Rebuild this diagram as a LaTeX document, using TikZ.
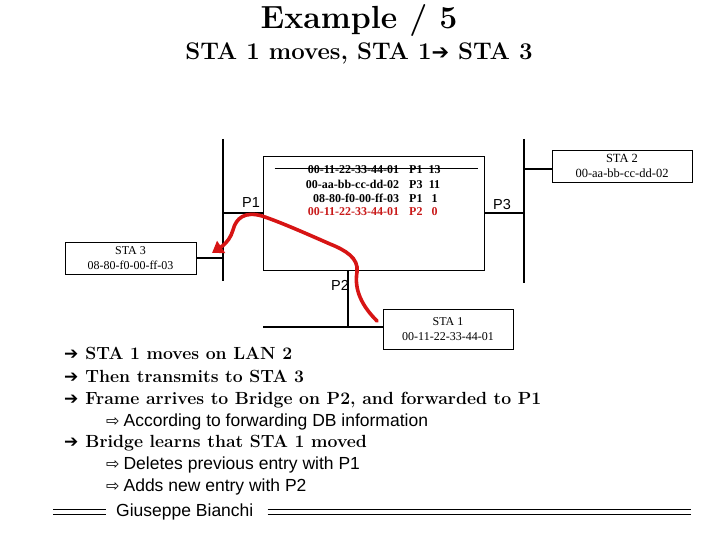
\documentclass[tikz,border=0pt]{standalone}
\usepackage{fontspec}
\setsansfont{Liberation Sans}
\newfontfamily\macfont{Liberation Serif}
\newfontfamily\symfont{DejaVu Sans}
\usetikzlibrary{arrows.meta}
\definecolor{movered}{RGB}{215,20,20}
\definecolor{entryred}{RGB}{200,25,25}
% one row of the forwarding data base
\newcommand{\fdbrow}[3]{\makebox[100pt][r]{#1}\hspace{10pt}#2\hspace{6pt}\makebox[12pt][c]{#3}}
\newcommand{\pointarrow}{{\symfont\mdseries\fontsize{17}{17}\selectfont ➔}\hspace{7pt}}
\newcommand{\subarrow}{{\symfont\fontsize{16}{16}\selectfont ⇨}\hspace{4pt}}

\begin{document}
\begin{tikzpicture}[x=1pt,y=-1pt,
  lan/.style={line width=1.1pt},
  stabox/.style={draw,line width=0.8pt,inner sep=0pt,align=center,
    font=\macfont\fontsize{12}{15}\selectfont},
  fdb/.style={anchor=west,inner sep=0pt,font=\macfont\bfseries\fontsize{12}{13}\selectfont},
  port/.style={font=\sffamily\fontsize{14.5}{16}\selectfont},
  point/.style={anchor=base west,inner sep=0pt,font=\bfseries\fontsize{17.6}{20}\selectfont},
  subpoint/.style={anchor=base west,inner sep=0pt,font=\sffamily\fontsize{17.5}{20}\selectfont},
  movepath/.style={movered,line width=3.6pt,line cap=round,
    -{Triangle[length=11pt,width=14pt]}},
  footerline/.style={line width=0.8pt}]
  \useasboundingbox (0,0) rectangle (720,540);

  % titles
  \node[font=\bfseries\fontsize{32}{34}\selectfont] (title) at (359,21) {Example / 5};
  \node[font=\bfseries\fontsize{24}{26}\selectfont] (subtitle) at (359,53)
    {STA 1 moves, STA 1{\symfont\mdseries\fontsize{21}{21}\selectfont ➔} STA 3};

  % bridge and its table
  \node[draw,line width=0.8pt,minimum width=221pt,minimum height=114pt] (bridge) at (373.5,213) {};
  \node[fdb] (row1) at (299,170) {\fdbrow{00-11-22-33-44-01}{P1}{13}};
  \node[fdb] (row2) at (299,184) {\fdbrow{00-aa-bb-cc-dd-02}{P3}{11}};
  \node[fdb] (row3) at (299,198) {\fdbrow{08-80-f0-00-ff-03}{P1}{1}};
  \node[fdb,text=entryred] (row4) at (299,212) {\fdbrow{00-11-22-33-44-01}{P2}{0}};
  \draw[line width=0.8pt] ([xshift=12pt,yshift=2pt]bridge.west |- row1.center)
    -- ([xshift=-6pt,yshift=2pt]bridge.east |- row1.center);

  % LANs
  \coordinate (lan1top) at (223,139);
  \coordinate (lan1bot) at (223,281);
  \coordinate (lan3top) at (524,139);
  \coordinate (lan3bot) at (524,283);
  \coordinate (lan2left) at (263,327);
  \coordinate (p2) at (348,327);
  \draw[lan] (lan1top) -- (lan1bot);
  \draw[lan] (lan3top) -- (lan3bot);

  % stations
  \node[stabox,minimum width=131pt,minimum height=32pt] (sta3) at (130.5,258)
    {STA 3\\08-80-f0-00-ff-03};
  \node[stabox,minimum width=140pt,minimum height=32pt,font=\macfont\fontsize{12.5}{15}\selectfont] (sta2) at (622,166)
    {STA 2\\00-aa-bb-cc-dd-02};
  \node[stabox,minimum width=130pt,minimum height=40pt] (sta1) at (448,329)
    {STA 1\\00-11-22-33-44-01};

  \draw[lan] (lan2left) -- (lan2left -| sta1.west);
  \draw[lan] (bridge.west) -- (bridge.west -| lan1top);
  \draw[lan] (bridge.east) -- (bridge.east -| lan3top);
  \draw[lan] (p2) -- (p2 |- bridge.south);
  \draw[lan] (sta3.east) -- (sta3.east -| lan1top);
  \draw[lan] ([yshift=-3pt]sta2.west) -- ([yshift=-3pt]sta2.west -| lan3top);

  \node[port] (p1lbl) at (251,203) {P1};
  \node[port] (p3lbl) at (502,205) {P3};
  \node[port] (p2lbl) at (340,285) {P2};

  % STA 1 moves, frame goes to STA 3
  \coordinate (mvstart) at (377,321);
  \coordinate (mvend) at (212,253);
  \draw[movepath] (mvstart) .. controls (362,306) and (354,290) .. (357,272)
    .. controls (359,258) and (345,250) .. (330,244)
    .. controls (305,233) and (280,222) .. (262,216)
    .. controls (245,211) and (236,218) .. (233,230)
    .. controls (231,237) and (227,243) .. (mvend);

  % notes
  \node[point] (n1) at (64,359) {\pointarrow STA 1 moves on LAN 2};
  \node[point] (n2) at (64,382) {\pointarrow Then transmits to STA 3};
  \node[point] (n3) at (64,404) {\pointarrow Frame arrives to Bridge on P2, and forwarded to P1};
  \node[subpoint] (n3a) at (106,426) {\subarrow According to forwarding DB information};
  \node[point] (n4) at (64,447) {\pointarrow Bridge learns that STA 1 moved};
  \node[subpoint] (n4a) at (106,469) {\subarrow Deletes previous entry with P1};
  \node[subpoint] (n4b) at (106,491) {\subarrow Adds new entry with P2};

  % footer
  \node[anchor=west,inner sep=0pt,font=\sffamily\fontsize{17.5}{20}\selectfont] (footer) at (116,512) {Giuseppe Bianchi};
  \coordinate (footleft) at (53,512);
  \coordinate (footright) at (691,512);
  \foreach \dy in {-2.3,2.3} {
    \draw[footerline] ([yshift=\dy pt]footleft) -- ([xshift=-10pt,yshift=\dy pt]footleft -| footer.west);
    \draw[footerline] ([xshift=14pt,yshift=\dy pt]footright -| footer.east) -- ([yshift=\dy pt]footright);
  }
\end{tikzpicture}
\end{document}
